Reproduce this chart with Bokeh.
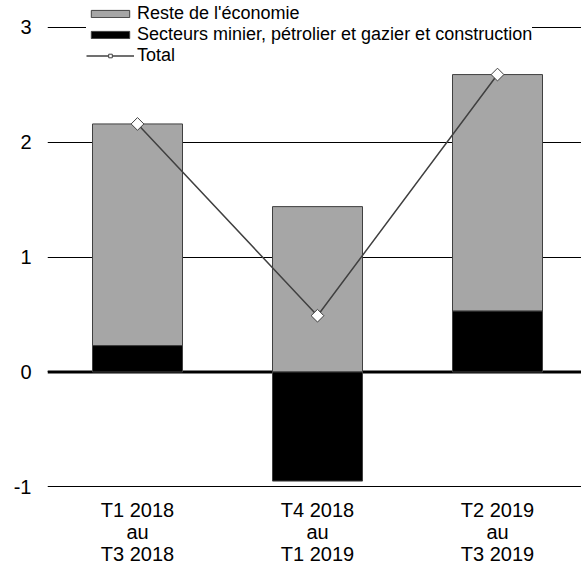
import numpy as np
from bokeh.plotting import figure
from bokeh.models import Range1d, FixedTicker, Span, Legend, LegendItem, ColumnDataSource
from bokeh.embed import file_html
from bokeh.resources import INLINE

# ---- data ----
periods = ["T1 2018\nau\nT3 2018", "T4 2018\nau\nT1 2019", "T2 2019\nau\nT3 2019"]
mining = [0.23, -0.95, 0.53]          # Secteurs minier, pétrolier et gazier et construction
rest = [1.93, 1.44, 2.06]             # Reste de l'économie
total = [2.16, 0.49, 2.59]            # Total
y_ticks = [-1, 0, 1, 2, 3]
y_tick_labels = ["-1", "0", "1", "2", "3"]

FONT = "Liberation Sans"

xpos = np.arange(len(periods)) + 0.5
mining_arr = np.array(mining)
rest_bottom = np.maximum(mining_arr, 0)
rest_top = rest_bottom + np.array(rest)

src = ColumnDataSource(dict(x=xpos, mining=mining_arr, zero=np.zeros(len(xpos)),
                            rest_bottom=rest_bottom, rest_top=rest_top, total=total))

W, H = 581, 567
BL, BB = 47, 80
p = figure(width=W, height=H, output_backend="svg", toolbar_location=None,
           x_range=Range1d(0, (W - BL) / 180), y_range=Range1d(-1.006, 3.235),
           min_border_left=BL, min_border_right=0, min_border_top=0, min_border_bottom=BB)
p.outline_line_color = None
p.background_fill_color = "white"

# grid
p.xgrid.visible = False
p.ygrid.ticker = FixedTicker(ticks=y_ticks)
p.ygrid.grid_line_color = "black"
p.ygrid.grid_line_width = 1
zero = Span(location=0, dimension="width", line_color="black", line_width=3, level="underlay")
p.add_layout(zero)

# bars
r_rest = p.vbar(x="x", bottom="rest_bottom", top="rest_top", width=0.5, source=src,
                fill_color="#A6A6A6", line_color="#404040", line_width=1)
r_min = p.vbar(x="x", bottom="zero", top="mining", width=0.5, source=src,
               fill_color="black", line_color="#404040", line_width=1)

# total line
r_line = p.line(x="x", y="total", source=src, line_color="#404040", line_width=1.5)
r_pts = p.scatter(x="x", y="total", source=src, marker="square", angle=np.pi / 4, size=9,
                  fill_color="white", line_color="#404040", line_width=1)

# axes
p.yaxis.ticker = FixedTicker(ticks=y_ticks)
p.yaxis.major_label_overrides = {t: s for t, s in zip(y_ticks, y_tick_labels)}
p.xaxis.ticker = FixedTicker(ticks=list(xpos))
p.xaxis.major_label_overrides = {float(x): lab for x, lab in zip(xpos, periods)}
for ax in (p.xaxis[0], p.yaxis[0]):
    ax.axis_line_color = None
    ax.major_tick_line_color = None
    ax.minor_tick_line_color = None
    ax.major_tick_out = 0
    ax.major_tick_in = 0
    ax.minor_tick_out = 0
    ax.major_label_text_font = FONT
    ax.major_label_text_color = "black"
    ax.major_label_text_font_size = "20px"
p.yaxis.major_label_standoff = 16
p.xaxis.major_label_text_line_height = 1.0
p.xaxis.major_label_standoff = 11

frame_h = H - BB
legend = Legend(items=[
    LegendItem(label="Reste de l'économie", renderers=[r_rest]),
    LegendItem(label="Secteurs minier, pétrolier et gazier et construction", renderers=[r_min]),
    LegendItem(label="Total", renderers=[r_line, r_pts]),
], location=(39, frame_h - 66), padding=0, spacing=0, margin=0,
    glyph_width=48, glyph_height=9, label_height=19, label_standoff=3,
    label_text_font=FONT, label_text_font_size="18px", label_text_color="black",
    border_line_color=None, background_fill_color="white", background_fill_alpha=1)
p.add_layout(legend, "center")

open("out.html", "w").write(file_html(p, INLINE))
